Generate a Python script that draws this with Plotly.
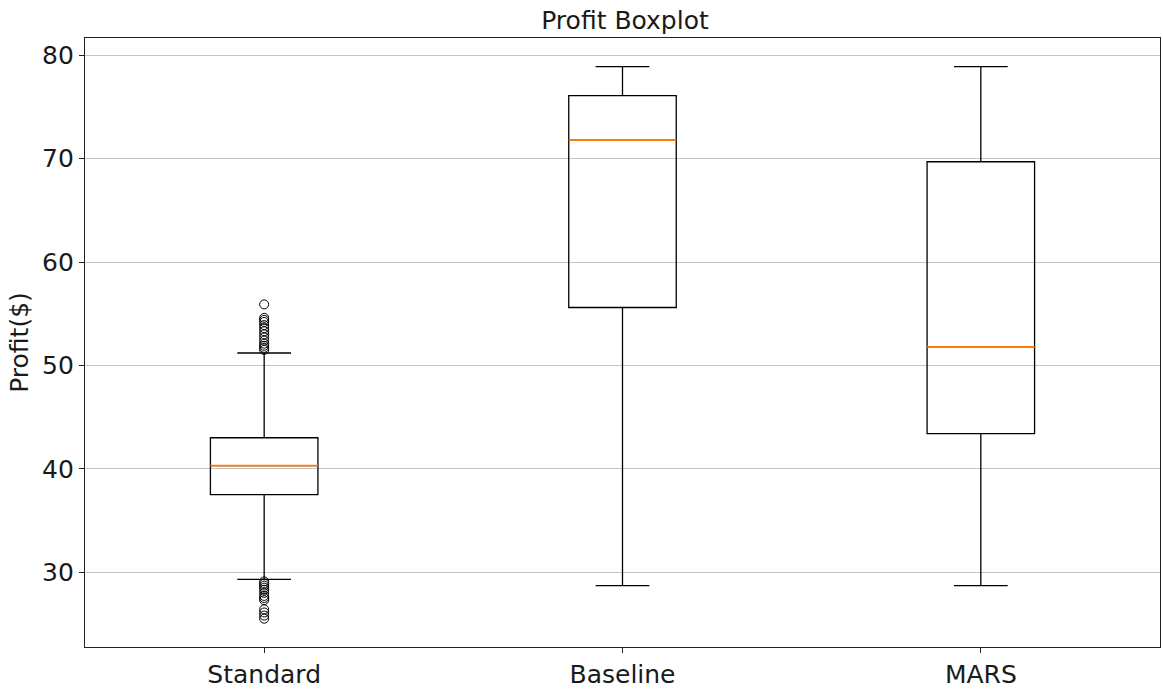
import plotly.graph_objects as go

categories = ["Standard", "Baseline", "MARS"]
q1 = [37.5, 55.6, 43.4]
medians = [40.3, 71.8, 51.8]
q3 = [43.0, 76.1, 69.7]
lower_whisker = [29.3, 28.7, 28.7]
upper_whisker = [51.2, 78.9, 78.9]

standard_outliers = [51.5, 51.7, 51.9, 52.1, 52.4, 52.7, 53.0, 53.3, 53.6, 53.9, 54.2, 54.4, 54.6, 55.9,
                     29.1, 28.9, 28.7, 28.5, 28.3, 28.0, 27.7, 27.5, 27.3, 26.4, 26.1, 25.8, 25.5]

yticks = [30, 40, 50, 60, 70, 80]

box_width = 0.3
positions = list(range(len(categories)))

fig = go.Figure()
fig.add_trace(go.Box(
    x=positions, q1=q1, median=medians, q3=q3,
    lowerfence=lower_whisker, upperfence=upper_whisker,
    boxpoints=False, width=box_width, whiskerwidth=0.5,
    line=dict(color="black", width=1.3),
    fillcolor="rgba(0,0,0,0)", showlegend=False, hoverinfo="skip",
))

for p, m in zip(positions, medians):
    fig.add_trace(go.Scatter(
        x=[p - box_width / 2, p + box_width / 2], y=[m, m], mode="lines",
        line=dict(color="#ff7f0e", width=1.8), showlegend=False, hoverinfo="skip",
    ))

fig.add_trace(go.Scatter(
    x=[positions[0]] * len(standard_outliers), y=standard_outliers, mode="markers",
    marker=dict(symbol="circle-open", size=9, color="black", line=dict(width=1)),
    showlegend=False, hoverinfo="skip",
))

fig.update_layout(
    width=1163, height=691,
    margin=dict(l=85, r=2, t=38, b=40),
    paper_bgcolor="white", plot_bgcolor="white",
    font=dict(family="DejaVu Sans", color="black"),
    title=dict(text="Profit Boxplot", x=0.5374, xanchor="center", y=0.9711, yanchor="middle",
               font=dict(size=25, color="#1a1a1a")),
    xaxis=dict(
        range=[-0.5, 2.5], tickmode="array", tickvals=positions, ticktext=categories,
        showgrid=False, zeroline=False, showline=True, linecolor="#222", linewidth=1.2,
        mirror=True, ticks="outside", ticklen=5, tickcolor="#222",
        tickfont=dict(size=25, color="#1a1a1a"),
    ),
    yaxis=dict(
        range=[22.76, 81.67], tickmode="array", tickvals=yticks,
        showgrid=True, gridcolor="#c4c4c4", gridwidth=1.2, zeroline=False,
        showline=True, linecolor="#222", linewidth=1.2, mirror=True,
        ticks="outside", ticklen=5, tickcolor="#222",
        tickfont=dict(size=25, color="#1a1a1a"),
        title=dict(text="Profit($)", font=dict(size=25, color="#1a1a1a"), standoff=6),
    ),
)

fig.write_html("out.html", config={"displayModeBar": False},
               post_script="document.body.style.margin='0';")
